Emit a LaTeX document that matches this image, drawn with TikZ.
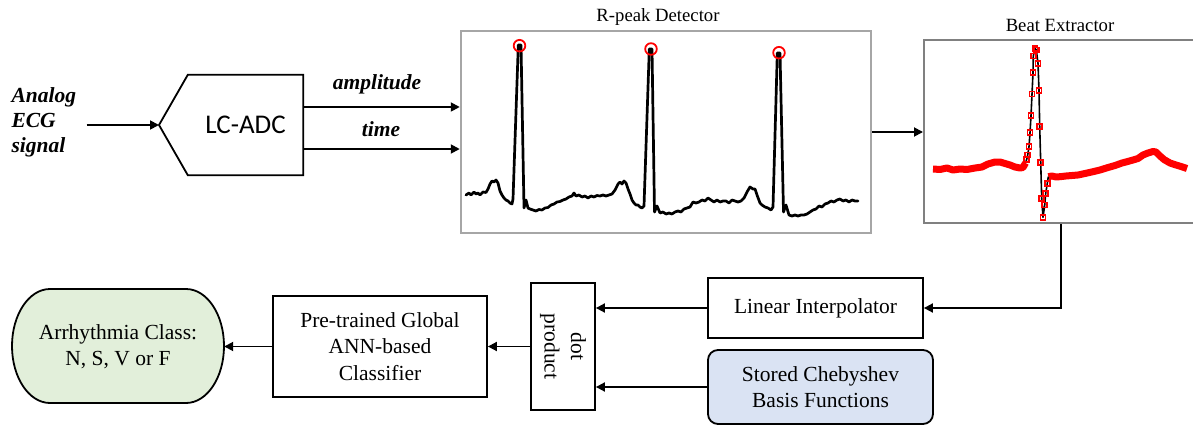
\documentclass[tikz,border=0pt]{standalone}
\usepackage{fontspec}
\setmainfont{Liberation Serif}
\newfontfamily\calibrifont{Carlito}
\usetikzlibrary{arrows.meta}
\definecolor{greenfill}{HTML}{E2EFDA}
\definecolor{bluefill}{HTML}{DAE3F3}
\definecolor{grayA}{HTML}{A6A6A6}
\definecolor{grayB}{HTML}{808080}
\definecolor{ecgred}{HTML}{FF0000}
\begin{document}
\begin{tikzpicture}[x=1pt,y=-1pt,
  arr/.style={line width=1.8pt,-{Triangle[length=9pt,width=9pt]}},
  txt/.style={font=\fontsize{21.5pt}{26.5pt}\selectfont},
  bitxt/.style={font=\fontsize{21.5pt}{25pt}\selectfont\bfseries\itshape},
  ttl/.style={font=\fontsize{18.7pt}{22pt}\selectfont},
  blk/.style={draw,line width=1.8pt,inner sep=0pt,align=center,txt},
  trace/.style={line width=2.7pt,line join=round,line cap=round},
]
\clip (0,0) rectangle (1193,425);
\fill[white] (0,0) rectangle (1193,425);

% ---------- input and ADC ----------
\node[bitxt,align=left,anchor=west] (sig) at (8,122) {Analog\\ECG\\signal};
\coordinate (adcin) at (159,125);
\node[inner sep=0pt,minimum width=115pt,minimum height=100pt,
      font=\calibrifont\fontsize{27pt}{30pt}\selectfont] (adc) at (245.5,125) {LC-ADC};
\draw[line width=1.8pt,line join=miter] (adc.north west) -- (adc.north east) -- (adc.south east)
   -- (adc.south west) -- (adcin) -- cycle;
\draw[arr] ([xshift=7pt]sig.east |- adcin) -- (adcin);

% ---------- R-peak detector ----------
\node[draw=grayA,line width=2.5pt,minimum width=410pt,minimum height=202pt,inner sep=0pt] (rpk) at (666,132) {};
\node[ttl] (rpkt) at (658,17) {R-peak Detector};

\node[bitxt] (amp) at (377,84) {amplitude};
\node[bitxt] (tim) at (381,129) {time};
\draw[arr] (adc.east |- 0,107) -- (rpk.west |- 0,107);
\draw[arr] (adc.east |- 0,149) -- (rpk.west |- 0,149);

\draw[trace] (466,195) -- (469,193) -- (471,195) -- (474,192) -- (476,194) -- (478,193) -- (480,195) -- (483,192)
 -- (486,192.5) -- (488,189) -- (490,184) -- (492,181) -- (494,182) -- (496,180) -- (498,183) -- (500,191)
 -- (502,195) -- (504,198) -- (506,200) -- (508,201) -- (510,203) -- (512,204) -- (513,199) -- (518.3,45)
 -- (521,45) -- (524,208) -- (526,200) -- (528,208) -- (530,209) -- (533,210) -- (536,211) -- (539,209.5)
 -- (542,210) -- (545,208) -- (548,207.5) -- (551,205) -- (554,204) -- (557,202) -- (560,201.5) -- (563,200)
 -- (566,199) -- (569,197) -- (572,196) -- (574,193) -- (576,196) -- (579,195) -- (582,197) -- (585,196)
 -- (588,198) -- (591,196) -- (594,197) -- (597,195.5) -- (600,196) -- (603,195) -- (606,196) -- (609,195)
 -- (612,194) -- (615,190) -- (618,184) -- (620,182) -- (622,184) -- (624,181) -- (626,183) -- (628,189)
 -- (630,194) -- (632,200) -- (634,203) -- (636,205) -- (638,205) -- (640,207) -- (642,208) -- (644,206)
 -- (649.3,49) -- (652,49) -- (654.5,212) -- (657,206) -- (660,213) -- (663,212) -- (666,214) -- (669,213)
 -- (672,214) -- (675,212) -- (678,211) -- (681,212) -- (684,209) -- (687,208) -- (690,207) -- (693,202)
 -- (696,203) -- (699,202) -- (702,200) -- (705,201) -- (708,198) -- (711,200) -- (714,202) -- (717,200)
 -- (720,202) -- (723,201) -- (726,201) -- (729,203) -- (732,200) -- (735,201) -- (738,202) -- (741,201)
 -- (744,198) -- (747,192) -- (750,187) -- (753,189) -- (755,189) -- (757,195) -- (760,203) -- (762,205)
 -- (765,207) -- (768,208) -- (771,210) -- (773,207) -- (777.3,53) -- (780,53) -- (783.5,212) -- (786,205)
 -- (789,215) -- (792,216) -- (795,215) -- (798,216) -- (801,215) -- (804,215) -- (807,214) -- (810,212)
 -- (813,210) -- (816,209) -- (819,206) -- (822,207) -- (825,204) -- (828,203) -- (831,201) -- (834,202)
 -- (837,200) -- (840,199) -- (843,201) -- (846,200) -- (849,202) -- (852,200) -- (855,201) -- (858,201);
\draw[ecgred,line width=1.8pt] (519.5,45.7) circle (5.8pt);
\draw[ecgred,line width=1.8pt] (651,49) circle (5.8pt);
\draw[ecgred,line width=1.8pt] (779,52.7) circle (5.8pt);

% ---------- Beat extractor ----------
\node[draw=grayB,line width=2pt,minimum width=274pt,minimum height=183pt,inner sep=0pt] (beat) at (1061,131.5) {};
\node[ttl] (beatt) at (1060,25) {Beat Extractor};
\draw[arr] (rpk.east |- 0,132) -- (beat.west |- 0,132);

\draw[ecgred,line width=7pt,line join=round] (933,169) -- (940,169.5) -- (947,168) -- (953,170) -- (960,169)
 -- (967,169.5) -- (975,168) -- (982,167) -- (988,164) -- (995,162) -- (1000,162) -- (1005,163.5)
 -- (1010,165) -- (1015,167) -- (1020,168) -- (1023,167.5) -- (1025.5,163);
\draw[ecgred,line width=7pt,line join=round] (1048.3,176.7) -- (1052,176) -- (1056,177) -- (1060,176.7)
 -- (1066,176) -- (1072,175.5) -- (1078,175) -- (1085,173.5) -- (1093,171.7) -- (1100,170) -- (1108,167.5)
 -- (1115,165.5) -- (1122,163) -- (1127,161.7) -- (1133,160) -- (1138,158.5) -- (1143,155) -- (1148,153)
 -- (1153,151.5) -- (1156,152) -- (1160,156) -- (1164,159.5) -- (1170,163) -- (1176,165) -- (1181,166.5)
 -- (1187,168.5);
\draw[line width=1.6pt,line join=round] (1025.5,163) -- (1026.7,159.3) -- (1027.7,155) -- (1029,146.7) -- (1030,132.7)
 -- (1031,115.7) -- (1032,94) -- (1033,72.7) -- (1033.3,56) -- (1035,48.3) -- (1036.3,50) -- (1038,63.3)
 -- (1039,90.7) -- (1039.7,126.7) -- (1040.7,162.3) -- (1041.7,198.3) -- (1043,217.3) -- (1044.7,205)
 -- (1045.7,193.3) -- (1047.3,183.3) -- (1048.3,176.7);
\foreach \mx/\my in {1026.7/159.3,1027.7/155,1029/146.7,1030/132.7,1031/115.7,1032/94,1033/72.7,1033.3/56,
  1035/48.3,1036.3/50,1038/63.3,1039/90.7,1039.7/126.7,1040.7/162.3,1041.7/198.3,1043/217.3,1044.7/205,
  1045.7/193.3,1047.3/183.3}
  \draw[ecgred,line width=1.7pt] (\mx-2.6,\my-2.6) rectangle (\mx+2.6,\my+2.6);

% ---------- bottom row ----------
\node[blk,minimum width=215pt,minimum height=60pt] (lin) at (815.5,308) {Linear Interpolator};
\node[blk,fill=bluefill,rounded corners=10pt,minimum width=225pt,minimum height=74pt] (cheb) at (820.5,387)
   {Stored Chebyshev\\Basis Functions};
\node[blk,minimum width=64pt,minimum height=127pt] (dot) at (563,346.5) {};
\node[txt,rotate=-90,align=center] (dott) at (dot.center) {dot\\product};
\node[blk,minimum width=214pt,minimum height=101pt] (clsf) at (380,346.5)
   {Pre-trained Global\\ANN-based\\Classifier};
\draw[line width=1.8pt,fill=greenfill] (50,289) -- (186,289)
   .. controls (207,289) and (224,314.5) .. (224,346)
   .. controls (224,377.5) and (207,403) .. (186,403)
   -- (50,403)
   .. controls (29,403) and (12,377.5) .. (12,346)
   .. controls (12,314.5) and (29,289) .. cycle;
\node[txt,align=center,inner sep=0pt,minimum width=212pt,minimum height=114pt] (arrh) at (118,346.5)
   {Arrhythmia Class:\\N, S, V or F};

\draw[arr] (beat.south) |- (lin.east);
\draw[arr] (lin.west) -- (dot.east |- lin.west);
\draw[arr] (cheb.west) -- (dot.east |- cheb.west);
\draw[arr] (dot.west) -- (clsf.east |- dot.west);
\draw[arr] (clsf.west) -- (arrh.east |- clsf.west);
\end{tikzpicture}
\end{document}
